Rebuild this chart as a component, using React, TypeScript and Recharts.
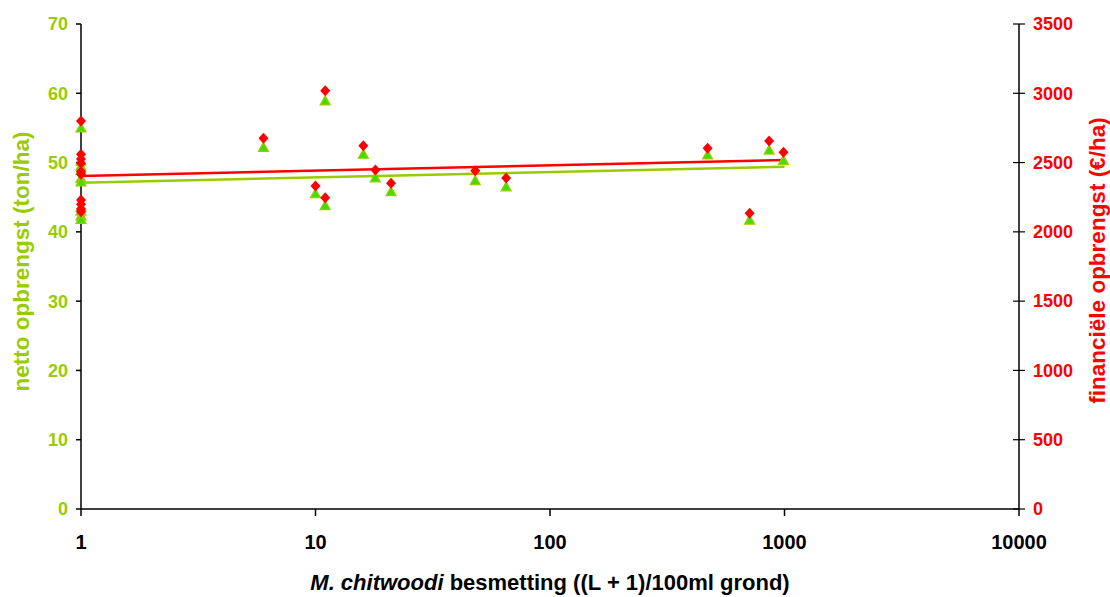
import React from "react";
import {
  ComposedChart,
  Scatter,
  Line,
  XAxis,
  YAxis,
} from "recharts";

// M. chitwoodi infestation ((L + 1)/100ml soil) per field
const infestation = [
  1, 1, 1, 1, 1, 1, 1, 1, 1, 1,
  6, 10, 11, 11, 16, 18, 21, 48, 65, 470, 710, 860, 990,
];
// net yield (ton/ha)
const nettoYield = [
  55, 50.2, 49.5, 48.9, 47.7, 47.2, 43.6, 43.0, 42.3, 41.8,
  52.2, 45.5, 58.9, 43.8, 51.2, 47.8, 45.8, 47.4, 46.5, 51.1, 41.7, 51.8, 50.3,
];
// financial yield (€/ha)
const financialYield = [
  2800, 2560, 2525, 2495, 2435, 2415, 2230, 2200, 2165, 2145,
  2675, 2331, 3019, 2246, 2622, 2446, 2350, 2441, 2388, 2603, 2134, 2656, 2574,
];

// trend lines (end points)
const trendX = [1, 1000];
const nettoTrendY = [47.1, 49.4];
const financialTrendY = [2403, 2519];

const xTicks = [1, 10, 100, 1000, 10000];
const leftTicks = [0, 10, 20, 30, 40, 50, 60, 70];
const rightTicks = [0, 500, 1000, 1500, 2000, 2500, 3000, 3500];

const GREEN = "#99cc00";
const RED = "#ff0000";
const FONT = "'Liberation Sans', Arial, sans-serif";

const nettoData = infestation.map((x, i) => ({ x, y: nettoYield[i] }));
const financialData = infestation.map((x, i) => ({ x, y: financialYield[i] }));
const nettoTrend = trendX.map((x, i) => ({ x, y: nettoTrendY[i] }));
const financialTrend = trendX.map((x, i) => ({ x, y: financialTrendY[i] }));

const RT_SIZE = 6;
const RT_MARGIN = 8;

const Triangle = (props: any) => {
  const { cx, cy } = props;
  if (cx == null || cy == null) return null;
  return (
    <polygon
      points={`${cx},${cy - 5} ${cx + 5},${cy + 4} ${cx - 5},${cy + 4}`}
      fill="#44dd00"
      stroke={GREEN}
      strokeWidth={1.2}
    />
  );
};

const Diamond = (props: any) => {
  const { cx, cy } = props;
  if (cx == null || cy == null) return null;
  return (
    <polygon
      points={`${cx},${cy - 5.5} ${cx + 5},${cy} ${cx},${cy + 5.5} ${cx - 5},${cy}`}
      fill={RED}
    />
  );
};

const RightTick = (props: any) => {
  const { x, y, payload } = props;
  const ax = x - RT_SIZE - RT_MARGIN;
  return (
    <g>
      <line x1={ax - 6} x2={ax + 6} y1={y} y2={y} stroke="#000" strokeWidth={1.2} />
      <text
        x={x}
        y={y}
        dy="0.35em"
        textAnchor="start"
        fill={RED}
        fontFamily={FONT}
        fontWeight="bold"
        fontSize={18}
      >
        {payload.value}
      </text>
    </g>
  );
};

export default function App() {
  return (
    <div style={{ position: "absolute", left: 0, top: 0, width: 1110, height: 597, background: "#fff" }}>
      <ComposedChart
        width={1110}
        height={597}
        margin={{ top: 24, right: 0, bottom: 0, left: 0 }}
      >
        <XAxis
          dataKey="x"
          type="number"
          scale="log"
          domain={[1, 10000]}
          ticks={xTicks}
          height={88}
          tickSize={7}
          tickMargin={19}
          stroke="#000"
          strokeWidth={1.5}
          tick={{ fill: "#000", fontFamily: FONT, fontWeight: "bold", fontSize: 20 }}
          label={{
            content: (p: any) => {
              const vb = p.viewBox;
              return (
                <text
                  x={vb.x + vb.width / 2}
                  y={vb.y + 81}
                  textAnchor="middle"
                  fontFamily={FONT}
                  fontWeight="bold"
                  fontSize={22}
                  fill="#000"
                >
                  <tspan fontStyle="italic">M. chitwoodi</tspan>
                  <tspan> besmetting ((L + 1)/100ml grond)</tspan>
                </text>
              );
            },
          }}
        />
        <YAxis
          yAxisId="left"
          type="number"
          domain={[0, 70]}
          ticks={leftTicks}
          width={81}
          tickSize={5}
          tickMargin={8}
          stroke="#000"
          strokeWidth={1.5}
          tick={{ fill: GREEN, fontFamily: FONT, fontWeight: "bold", fontSize: 18 }}
          label={{
            content: (p: any) => {
              const vb = p.viewBox;
              const cx = vb.x + 21;
              const cy = vb.y + vb.height / 2 - 5;
              return (
                <text
                  x={cx}
                  y={cy}
                  transform={`rotate(-90, ${cx}, ${cy})`}
                  textAnchor="middle"
                  dominantBaseline="central"
                  fontFamily={FONT}
                  fontWeight="bold"
                  fontSize={22.5}
                  fill={GREEN}
                >
                  netto opbrengst (ton/ha)
                </text>
              );
            },
          }}
        />
        <YAxis
          yAxisId="right"
          orientation="right"
          type="number"
          domain={[0, 3500]}
          ticks={rightTicks}
          width={91}
          tickSize={RT_SIZE}
          tickMargin={RT_MARGIN}
          tickLine={false}
          stroke="#000"
          strokeWidth={1.5}
          tick={<RightTick />}
          label={{
            content: (p: any) => {
              const vb = p.viewBox;
              const cx = vb.x + 78;
              const cy = vb.y + vb.height / 2 - 6;
              return (
                <text
                  x={cx}
                  y={cy}
                  transform={`rotate(-90, ${cx}, ${cy})`}
                  textAnchor="middle"
                  dominantBaseline="central"
                  fontFamily={FONT}
                  fontWeight="bold"
                  fontSize={22.5}
                  fill={RED}
                >
                  financiële opbrengst (€/ha)
                </text>
              );
            },
          }}
        />
        <Scatter
          yAxisId="left"
          data={nettoData}
          dataKey="y"
          shape={<Triangle />}
          isAnimationActive={false}
        />
        <Scatter
          yAxisId="right"
          data={financialData}
          dataKey="y"
          shape={<Diamond />}
          isAnimationActive={false}
        />
        <Line
          yAxisId="left"
          data={nettoTrend}
          dataKey="y"
          type="linear"
          stroke={GREEN}
          strokeWidth={2.5}
          dot={false}
          activeDot={false}
          isAnimationActive={false}
        />
        <Line
          yAxisId="right"
          data={financialTrend}
          dataKey="y"
          type="linear"
          stroke={RED}
          strokeWidth={2.5}
          dot={false}
          activeDot={false}
          isAnimationActive={false}
        />
      </ComposedChart>
    </div>
  );
}
